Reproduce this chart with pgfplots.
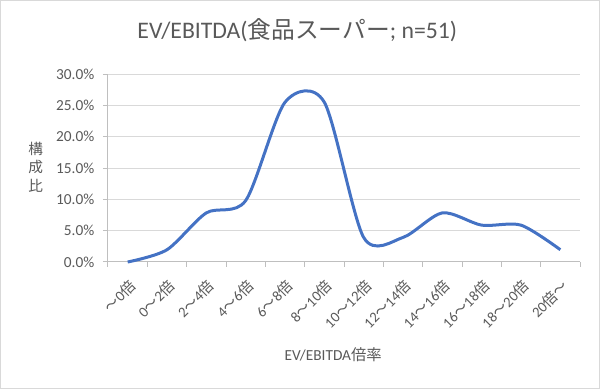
\documentclass[border=0pt]{standalone}
\usepackage{fontspec}
\setmainfont{Carlito}
\newfontfamily\jp{Noto Sans CJK JP}
\usepackage{pgfplots}
\pgfplotsset{compat=1.18}
\definecolor{txt}{HTML}{595959}
\definecolor{gridc}{HTML}{D9D9D9}
\definecolor{axc}{HTML}{BFBFBF}
\definecolor{linec}{HTML}{4472C4}
\newcommand{\T}{{\jp ～}}
\newcommand{\B}{{\jp 倍}}
\begin{document}
\begin{tikzpicture}[x=1pt,y=1pt]
\path[use as bounding box] (-81,-95.25) rectangle (369,196.5);
\draw[gray!30, line width=0.8pt] (-80.6,-94.85) rectangle (368.6,196.1);
\begin{axis}[
  at={(0,0)}, anchor=south west,
  scale only axis, width=354pt, height=141pt,
  clip=false,
  xmin=-0.5, xmax=11.5, ymin=0, ymax=30,
  axis x line*=bottom, axis y line*=left,
  axis line style={axc, line width=0.75pt},
  tick align=outside,
  major tick length=3.75pt,
  ytick={0,5,10,15,20,25,30},
  yticklabels={0.0\%,5.0\%,10.0\%,15.0\%,20.0\%,25.0\%,30.0\%},
  ymajorgrids, grid style={gridc, line width=0.75pt},
  y tick style={axc, line width=0.75pt},
  yticklabel style={font=\fontsize{11.5}{13}\selectfont, text=txt, xshift=-3pt},
  xtick={0,...,11},
  xticklabels={\T0\B, 0\T2\B, 2\T4\B, 4\T6\B, 6\T8\B, 8\T10\B, 10\T12\B, 12\T14\B, 14\T16\B, 16\T18\B, 18\T20\B, 20\B\T},
  x tick style={draw=none},
  xticklabel shift=7pt,
  xticklabel style={rotate=45, anchor=north east, font=\fontsize{11}{13}\selectfont, text=txt, inner sep=1pt},
  extra x ticks={-0.5,0.5,1.5,2.5,3.5,4.5,5.5,6.5,7.5,8.5,9.5,10.5,11.5},
  extra x tick labels={},
  extra x tick style={x tick style={draw=axc, line width=0.75pt}, xmajorgrids=false},
]
\addplot[linec, line width=2.25pt, smooth, tension=0.47] coordinates {
(0,0) (1,1.96) (2,7.84) (3,9.80) (4,25.49) (5,25.49) (6,3.92) (7,3.92) (8,7.84) (9,5.88) (10,5.88) (11,1.96)};
\node[text=txt, font=\fontsize{17.8}{20}\selectfont] at (axis description cs:0.401,1.234) {EV/EBITDA({\jp 食品スーパー}; n=51)};
\node[text=txt, font=\fontsize{11}{14}\selectfont\jp, align=center] at (axis description cs:-0.153,0.505) {構\\成\\比};
\node[text=txt, font=\fontsize{11.5}{14}\selectfont] at (axis description cs:0.477,-0.495) {EV/EBITDA{\jp 倍率}};
\end{axis}
\end{tikzpicture}
\end{document}
